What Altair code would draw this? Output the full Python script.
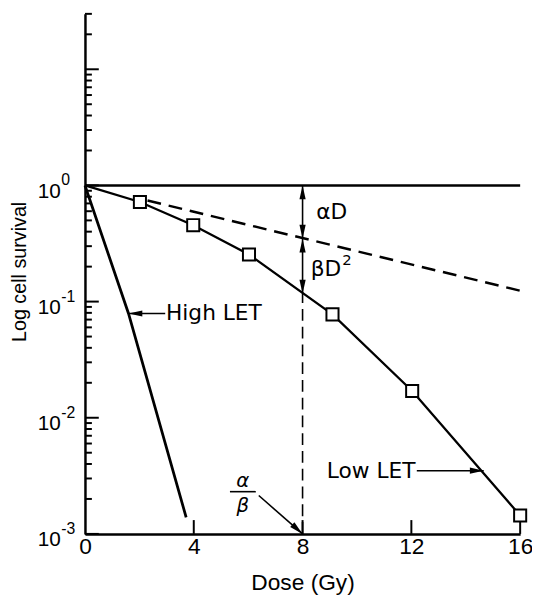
import altair as alt
import pandas as pd

FONT = "DejaVu Sans"
NUM_FONT = "Liberation Sans, DejaVu Sans"

# ---------------- values ----------------
# Low LET survival curve (open squares)
low_dose = [0.0, 2.02, 3.98, 6.03, 9.1, 12.03, 16.0]
low_surv = [1.0, 0.72, 0.455, 0.254, 0.0776, 0.017, 0.00144]
# High LET survival line
high_dose = [0.0, 1.6, 3.72]
high_surv = [1.0, 0.079, 0.00139]
# extrapolated alpha-D component (dashed)
alpha_dose = [2.3, 16.0]
alpha_surv = [0.741, 0.124]
# survival = 1 reference line
unity_dose = [0.0, 16.0]
unity_surv = [1.0, 1.0]
# alpha/beta dose and the two levels there
ab_dose = 8.0
ab_alpha = 0.348
ab_curve = 0.117
# axis ticks
x_tick_labels = [0, 4, 8, 12, 16]
x_inner_ticks = [4, 8, 12, 16]
y_tick_labels = [0.001, 0.01, 0.1, 1]
y_exponents = ["-3", "-2", "-1", "0"]
y_major = [0.001, 0.01, 0.1, 1, 10]
y_minor = [0.002, 0.003, 0.004, 0.005, 0.006, 0.007, 0.008, 0.009,
           0.02, 0.03, 0.04, 0.05, 0.06, 0.07, 0.08, 0.09,
           0.2, 0.3, 0.4, 0.5, 0.6, 0.7, 0.8, 0.9,
           2, 3, 4, 5, 6, 7, 8, 9, 20, 30]

# ---------------- scales / axes ----------------
xs = alt.Scale(domain=[0, 16], nice=False, zero=False)
ys = alt.Scale(type="log", domain=[0.001, 30], nice=False)

xaxis = alt.Axis(values=x_tick_labels, title="Dose (Gy)", grid=False, ticks=False, tickSize=0,
                 domainColor="black", domainWidth=2.5, labelFont=NUM_FONT, labelFontSize=23,
                 labelColor="black", labelPadding=2, labelFlush=False, labelOverlap=False,
                 titleFont=NUM_FONT, titleFontSize=23, titleFontWeight="normal", titleColor="black",
                 titleX=220.5, titleY=56, titleBaseline="alphabetic", titleAlign="center")
yaxis = alt.Axis(values=y_tick_labels, labelExpr="'10'",
                 title="Log cell survival", grid=False, ticks=False, tickSize=0,
                 domainColor="black", domainWidth=2.5, labelFont=NUM_FONT, labelFontSize=21,
                 labelColor="black", labelPadding=25, labelOffset=6, labelFlush=False, labelOverlap=False,
                 titleFont=NUM_FONT, titleFontSize=20, titleFontWeight="normal", titleColor="black",
                 titleX=-66, titleY=261, titleAngle=-90, titleBaseline="middle", titleAlign="center")


def X(f="dose"):
    return alt.X(f"{f}:Q", scale=xs, axis=xaxis)


def Y(f="surv"):
    return alt.Y(f"{f}:Q", scale=ys, axis=yaxis)


# ---------------- tables ----------------
low_df = pd.DataFrame({"dose": low_dose, "surv": low_surv})
sq_df = pd.DataFrame({"dose": low_dose[1:], "surv": low_surv[1:]})
high_df = pd.DataFrame({"dose": high_dose, "surv": high_surv})
alpha_df = pd.DataFrame({"dose": alpha_dose, "surv": alpha_surv})
unity_df = pd.DataFrame({"dose": unity_dose, "surv": unity_surv})
exp_df = pd.DataFrame({"surv": y_tick_labels, "label": y_exponents})

# pointer shafts (data coordinates)
shaft_df = pd.DataFrame({
    "dose": [1.6, 12.2, 6.39, ab_dose, 5.33],
    "dose2": [2.95, 14.66, ab_dose, ab_dose, 6.28],
    "surv": [0.079, 0.0035, 0.00214, 1.0, 0.00231],
    "surv2": [0.079, 0.0035, 0.001, ab_curve, 0.00231],
})
vdash_df = pd.DataFrame({"dose": [ab_dose], "surv": [0.001], "surv2": [ab_curve]})

arrow_path = "M0,0 L0.45,2 L-0.45,2 Z"
head_df = pd.DataFrame({
    "dose": [ab_dose, ab_dose, ab_dose, ab_dose, 1.6, 14.66, ab_dose],
    "surv": [1.0, ab_alpha, ab_alpha, ab_curve, 0.079, 0.0035, 0.001],
    "ang": [0, 180, 0, 180, 270, 90, 132],
})

left_txt = pd.DataFrame({"dose": [2.98, 8.5, 8.3], "surv": [0.079, 0.59, 0.19],
                         "label": ["High LET", "αD", "βD"]})
sup_txt = pd.DataFrame({"dose": [8.3], "surv": [0.19], "label": ["2"]})
right_txt = pd.DataFrame({"dose": [12.15], "surv": [0.0035], "label": ["Low LET"]})
frac_txt = pd.DataFrame({"dose": [5.8, 5.8], "surv": [0.00285, 0.00172], "label": ["α", "β"]})

ymaj_df = pd.DataFrame({"surv": y_major})
ymin_df = pd.DataFrame({"surv": y_minor})
xtk_df = pd.DataFrame({"dose": x_inner_ticks})

# ---------------- layers ----------------
ymaj = alt.Chart(ymaj_df).mark_rule(color="black", strokeWidth=2).encode(
    y=Y(), x=alt.value(0), x2=alt.value(14))
ymin = alt.Chart(ymin_df).mark_rule(color="black", strokeWidth=2).encode(
    y=Y(), x=alt.value(0), x2=alt.value(7))
xtk = alt.Chart(xtk_df).mark_rule(color="black", strokeWidth=2).encode(
    x=X(), y=alt.value(527), y2=alt.value(513))
exps = alt.Chart(exp_df).mark_text(align="left", baseline="middle", font=NUM_FONT, fontSize=16,
                                   dy=-5, color="black").encode(
    y=Y(), x=alt.value(-24), text="label:N")

unity = alt.Chart(unity_df).mark_line(color="black", strokeWidth=2.5).encode(x=X(), y=Y())
alpha = alt.Chart(alpha_df).mark_line(color="black", strokeWidth=2.5, strokeDash=[14, 8]).encode(x=X(), y=Y())
vdash = alt.Chart(vdash_df).mark_rule(color="black", strokeWidth=1.6, strokeDash=[12, 6]).encode(
    x=X(), y=Y(), y2=alt.Y2("surv2"))
shafts = alt.Chart(shaft_df).mark_rule(color="black", strokeWidth=1.6).encode(
    x=X(), x2=alt.X2("dose2"), y=Y(), y2=alt.Y2("surv2"))
high = alt.Chart(high_df).mark_line(color="black", strokeWidth=2.8).encode(x=X(), y=Y())
low = alt.Chart(low_df).mark_line(color="black", strokeWidth=2.3).encode(x=X(), y=Y())
squares = alt.Chart(sq_df).mark_point(shape="square", size=150, filled=True, fill="white",
                                      stroke="black", strokeWidth=2, opacity=1).encode(x=X(), y=Y())
heads = alt.Chart(head_df).mark_point(shape=arrow_path, size=196, filled=True, color="black",
                                      opacity=1, strokeWidth=0).encode(
    x=X(), y=Y(), angle=alt.Angle("ang:Q", scale=None))

t_left = alt.Chart(left_txt).mark_text(align="left", baseline="middle", font=FONT, fontSize=22,
                                       color="black").encode(x=X(), y=Y(), text="label:N")
t_sup = alt.Chart(sup_txt).mark_text(align="left", baseline="middle", font=FONT, fontSize=15,
                                     dx=32, dy=-9, color="black").encode(x=X(), y=Y(), text="label:N")
t_right = alt.Chart(right_txt).mark_text(align="right", baseline="middle", font=FONT, fontSize=22,
                                         color="black").encode(x=X(), y=Y(), text="label:N")
t_frac = alt.Chart(frac_txt).mark_text(align="center", baseline="middle", font=FONT, fontSize=20,
                                       fontStyle="italic", color="black").encode(x=X(), y=Y(), text="label:N")

chart = alt.layer(
    ymaj, ymin, xtk, exps, unity, alpha, vdash, shafts, high, low, squares, heads,
    t_left, t_sup, t_right, t_frac
).properties(
    width=441, height=527,
    autosize=alt.AutoSizeParams(type="none"),
    padding={"left": 78, "top": 2, "right": 12, "bottom": 60},
    background="white",
).configure_view(stroke=None)

chart.save("out.html", embed_options={"renderer": "svg", "actions": False})
